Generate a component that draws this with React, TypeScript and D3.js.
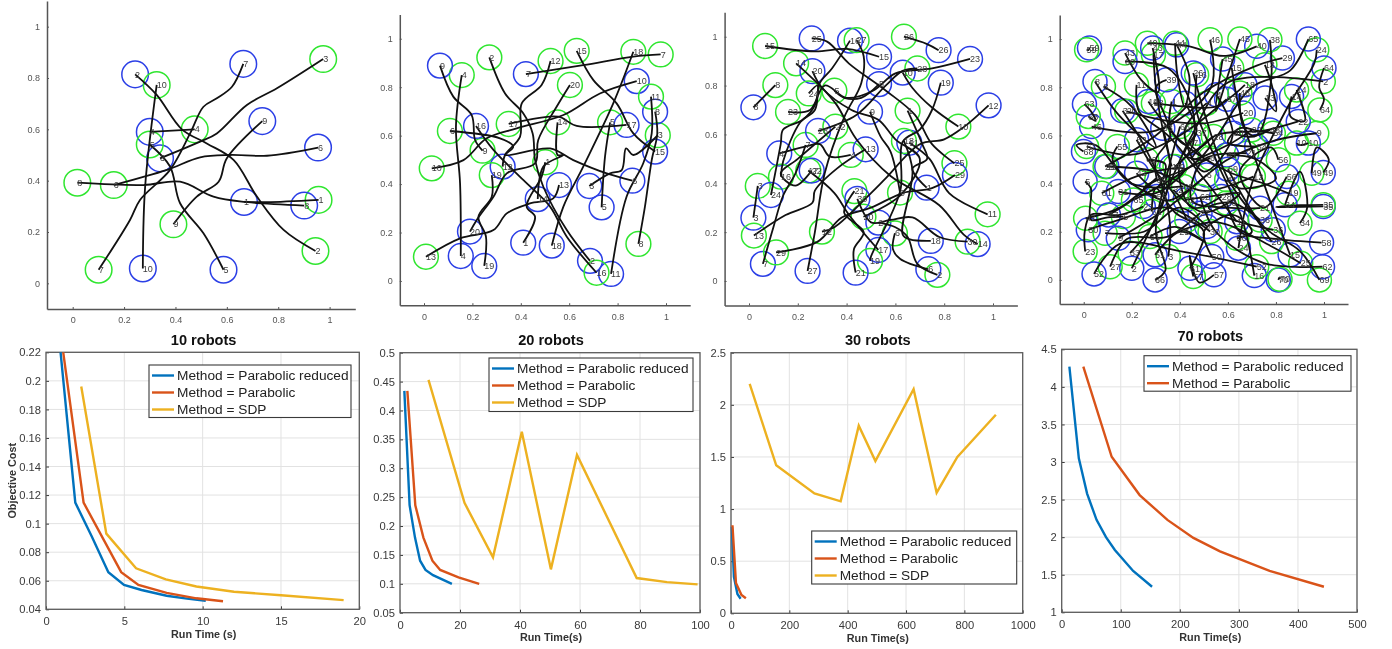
import React, { useEffect, useRef } from 'react';
import * as d3 from 'd3';

const width = 1392;
const height = 649;
const font = '"Liberation Sans", Arial, sans-serif';

// robot trajectories, each one from the blue circle to the green circle, in map units
const robots10 = [
  [[.667,.317],[.756,.316],[.957,.325]],
  [[.243,.814],[.327,.734],[.425,.6],[.522,.545],[.626,.481],[.717,.338],[.821,.208],[.945,.126]],
  [[.34,.487],[.496,.552],[.561,.584],[.678,.695],[.795,.76],[.975,.874]],
  [[.3,.59],[.475,.6]],
  [[.587,.053],[.509,.195],[.418,.312],[.379,.455],[.3,.541]],
  [[.955,.529],[.756,.497],[.613,.5],[.496,.491],[.367,.442],[.16,.383]],
  [[.664,.855],[.62,.766],[.561,.721],[.509,.688],[.457,.584],[.379,.442],[.262,.325],[.223,.247],[.101,.053]],
  [[.901,.303],[.671,.317],[.548,.338],[.418,.396],[.275,.383],[.018,.392]],
  [[.738,.632],[.6,.487],[.568,.396],[.483,.338],[.392,.23]],
  [[.273,.058],[.282,.377],[.327,.773]],
];

const robots20 = [
  [[.41,.158],[.459,.265],[.424,.307],[.486,.431],[.501,.49]],
  [[.686,.083],[.59,.21],[.493,.389],[.459,.499],[.449,.609],[.41,.692],[.335,.774],[.27,.923]],
  [[.683,.392],[.769,.444],[.817,.458],[.835,.547],[.865,.52],[.966,.602]],
  [[.152,.103],[.149,.403],[.132,.637],[.156,.85]],
  [[.734,.304],[.748,.513],[.769,.655]],
  [[.861,.414],[.755,.444],[.617,.499],[.521,.547],[.335,.52],[.369,.554],[.314,.589],[.107,.619]],
  [[.421,.854],[.658,.891],[.865,.926],[.978,.935]],
  [[.955,.699],[.964,.609],[.941,.499],[.913,.307],[.886,.153]],
  [[.066,.889],[.121,.761],[.197,.685],[.211,.582],[.242,.538]],
  [[.879,.825],[.727,.774],[.576,.685],[.383,.63],[.259,.589],[.163,.499],[.032,.465]],
  [[.773,.029],[.837,.348],[.906,.486],[.941,.609],[.938,.761]],
  [[.325,.472],[.335,.52],[.397,.596],[.404,.733],[.486,.809],[.523,.908]],
  [[.558,.396],[.534,.341],[.438,.32],[.342,.279],[.287,.21],[.149,.176],[.008,.1]],
  [[.47,.338],[.493,.472],[.576,.52],[.552,.52],[.552,.655]],
  [[.955,.534],[.865,.609],[.796,.733],[.7,.829],[.631,.95]],
  [[.215,.64],[.287,.541],[.41,.417],[.521,.307],[.59,.183],[.713,.034]],
  [[.837,.644],[.631,.64],[.555,.678],[.424,.664],[.35,.648]],
  [[.528,.146],[.576,.307],[.658,.472],[.782,.733],[.865,.946]],
  [[.249,.062],[.256,.183],[.225,.265],[.28,.348],[.28,.437]],
  [[.19,.204],[.218,.252],[.287,.348],[.342,.444],[.459,.486],[.472,.582],[.548,.719],[.603,.809]],
];

const robots30 = [
  [[.728,.382],[.67,.46],[.73,.5],[.71,.56],[.65,.697]],
  [[.53,.239],[.6,.22],[.65,.18],[.69,.07],[.772,.025]],
  [[.018,.259],[.036,.389]],
  [[.124,.522],[.23,.55],[.29,.56],[.33,.51],[.417,.516]],
  [[.533,.806],[.46,.75],[.39,.75],[.35,.779]],
  [[.735,.048],[.62,.09],[.59,.13],[.598,.195]],
  [[.057,.07],[.1,.22],[.14,.35],[.19,.44],[.232,.557]],
  [[.018,.711],[.108,.802]],
  [[.496,.693],[.54,.59],[.58,.53],[.619,.362]],
  [[.63,.853],[.67,.79],[.75,.71],[.858,.632]],
  [[.657,.566],[.74,.5],[.82,.36],[.978,.273]],
  [[.982,.719],[.88,.63],[.8,.58],[.7,.56],[.56,.42],[.5,.36],[.35,.22],[.299,.202]],
  [[.478,.539],[.36,.46],[.27,.37],[.26,.32],[.15,.27],[.02,.186]],
  [[.937,.151],[.88,.19],[.78,.31],[.58,.43],[.44,.58],[.36,.72],[.3,.79],[.193,.891]],
  [[.533,.918],[.4,.95],[.27,.94],[.066,.962]],
  [[.414,.984],[.34,.87],[.29,.81],[.27,.7],[.21,.65],[.14,.49],[.131,.427]],
  [[.53,.127],[.41,.27],[.35,.36],[.243,.452]],
  [[.745,.164],[.66,.17],[.63,.19],[.67,.45],[.635,.573]],
  [[.786,.812],[.75,.7],[.7,.62],[.63,.57],[.62,.37],[.5,.1],[.496,.082]],
  [[.26,.859],[.3,.79],[.42,.7],[.53,.66],[.6,.58],[.7,.5],[.62,.35],[.469,.263]],
  [[.437,.034],[.43,.13],[.47,.2],[.39,.28],[.432,.368]],
  [[.257,.452],[.19,.39],[.13,.44],[.2,.5],[.354,.632]],
  [[.906,.909],[.75,.87],[.6,.85],[.51,.78],[.4,.75],[.31,.8],[.25,.7],[.16,.692]],
  [[.09,.352],[.13,.56],[.14,.62],[.22,.66],[.27,.72],[.28,.8],[.245,.768]],
  [[.257,.993],[.32,.98],[.41,.89],[.56,.78],[.68,.68],[.75,.56],[.842,.482]],
  [[.777,.945],[.73,.97],[.635,1]],
  [[.24,.041],[.27,.2],[.31,.44],[.39,.67],[.46,.81],[.47,.92],[.441,.986]],
  [[.283,.614],[.44,.68],[.56,.8],[.63,.86],[.69,.87]],
  [[.844,.434],[.75,.38],[.63,.36],[.5,.3],[.38,.26],[.28,.16],[.111,.117]],
  [[.444,.336],[.5,.24],[.58,.25],[.67,.26],[.78,.18],[.896,.161]],
];

const robots70 = [
  [[.422,.734],[.47,.62],[.43,.56],[.36,.63],[.366,.741]],
  [[.2,.048],[.3,.26],[.45,.6],[.6,.82],[.997,.824]],
  [[.162,.702],[.25,.56],[.33,.38],[.36,.22],[.352,.097]],
  [[.553,.769],[.62,.6],[.5,.45],[.42,.62],[.512,.734]],
  [[.006,.409],[.03,.38],[.03,.25],[.1,.26],[.165,.263]],
  [[.512,.436],[.35,.33],[.25,.38],[.4,.45],[.526,.506]],
  [[.512,.222],[.4,.3],[.25,.2],[.089,.194]],
  [[.047,.824],[.15,.68],[.3,.55],[.2,.72],[.082,.803]],
  [[.144,.173],[.35,.3],[.6,.5],[.8,.58],[.97,.609]],
  [[.935,.568],[.9,.56],[.886,.568]],
  [[.637,.242],[.5,.42],[.35,.6],[.23,.7],[.22,.81]],
  [[.096,.471],[.3,.45],[.5,.37],[.706,.429]],
  [[.755,.755],[.8,.7],[.78,.82],[.754,.893]],
  [[.865,.762],[.86,.68],[.92,.66],[.886,.789]],
  [[.859,.104],[.75,.4],[.65,.7],[.616,.88]],
  [[.71,.018],[.66,.25],[.55,.5],[.47,.7],[.47,.852]],
  [[.366,.471],[.33,.62],[.3,.8],[.29,.935]],
  [[.671,.81],[.55,.72],[.42,.72],[.29,.734]],
  [[.269,.741],[.4,.58],[.6,.45],[.75,.4],[.852,.36]],
  [[.664,.693],[.5,.65],[.35,.66],[.179,.7]],
  [[.734,.298],[.6,.3],[.45,.33],[.5,.5],[.678,.526]],
  [[.893,.658],[.75,.62],[.55,.6],[.45,.5],[.6,.56],[.699,.623]],
  [[.248,.305],[.15,.27],[.03,.27],[.004,.2],[.006,.118]],
  [[.644,.132],[.7,.4],[.85,.72],[.96,.9],[.97,.956]],
  [[.398,.201],[.55,.24],[.78,.14],[.903,.069]],
  [[.456,.859],[.5,.7],[.6,.42],[.72,.25],[.782,.159]],
  [[.484,.277],[.35,.18],[.18,.17],[.11,.055]],
  [[.574,.346],[.45,.3],[.4,.48],[.5,.56],[.54,.596]],
  [[.827,.921],[.72,.89],[.5,.78],[.3,.6],[.089,.471]],
  [[.019,.208],[.15,.25],[.35,.3],[.526,.201]],
  [[.144,.367],[.3,.36],[.42,.46],[.25,.44],[.075,.36]],
  [[.422,.332],[.55,.35],[.65,.36],[.5,.28],[.373,.374]],
  [[.329,.63],[.36,.45],[.3,.25],[.193,.111]],
  [[.838,.312],[.9,.45],[.93,.3],[.9,.235]],
  [[.997,.305],[.8,.302],[.9,.31],[.997,.312]],
  [[.789,.208],[.62,.25],[.52,.3],[.62,.32],[.734,.249]],
  [[.435,.568],[.5,.5],[.42,.52],[.47,.609]],
  [[.623,.609],[.72,.6],[.78,.83],[.775,.997]],
  [[.345,.831],[.3,.8],[.36,.6],[.3,.5],[.304,.416]],
  [[.72,.97],[.58,.93],[.44,.97],[.265,.983]],
  [[.595,.519],[.72,.5],[.8,.42],[.65,.38],[.595,.416]],
  [[.22,.443],[.3,.38],[.34,.48],[.262,.499]],
  [[.287,.963],[.31,.78],[.24,.83],[.172,.942]],
  [[.387,.976],[.44,.84],[.42,.72],[.39,.85],[.38,.983]],
  [[.578,.917],[.55,.7],[.6,.85],[.65,1]],
  [[.033,.637],[.3,.62],[.53,.8],[.526,.997]],
  [[.103,.27],[.2,.33],[.3,.42],[.15,.3],[.008,.256]],
  [[.775,.623],[.7,.6],[.66,.65],[.65,.776]],
  [[.997,.446],[1.02,.5],[.97,.55],[.949,.443]],
  [[.533,.097],[.5,.2],[.62,.27],[.7,.2],[.637,.173]],
  [[.297,.104],[.4,.2],[.5,.16],[.38,.22],[.276,.18]],
  [[.043,.025],[.15,.15],[.4,.12],[.72,.055]],
  [[.22,.582],[.3,.45],[.38,.35],[.429,.249]],
  [[.72,.554],[.6,.57],[.65,.63],[.72,.62],[.789,.609]],
  [[.304,.346],[.2,.4],[.12,.5],[.14,.554]],
  [[.845,.429],[.75,.3],[.65,.45],[.78,.55],[.81,.499]],
  [[.542,.021],[.48,-.01],[.44,.1],[.456,.014]],
  [[.99,.155],[.8,.17],[.65,.2],[.595,.319]],
  [[.024,.963],[.02,.955],[.012,.956]],
  [[.172,.907],[.35,.88],[.45,.72],[.45,.55],[.38,.471]],
  [[.442,.048],[.5,.2],[.38,.28],[.3,.38],[.283,.284]],
  [[.994,.055],[.75,.07],[.55,.2],[.484,.346]],
  [[.003,.73],[.03,.7],[.05,.66],[.019,.679]],
  [[1,.88],[.98,.8],[1,.75],[.983,.706]],
  [[.935,1],[.86,.87],[.7,.8],[.48,.5],[.207,.332]],
  [[.297,0],[.34,.04],[.3,.2],[.35,.45],[.401,.637]],
  [[.595,.75],[.4,.6],[.2,.52],[.012,.554]],
  [[-.001,.533],[-.03,.56],[.05,.56],[.2,.4],[.415,.388]],
  [[.6,.46],[.75,.22],[.9,.12],[.981,0]],
  [[.81,0],[.815,.01],[.817,.003]],
];

const mapTicks = [0, 0.2, 0.4, 0.6, 0.8, 1];

// run time (s) and objective cost per method
const methods = ['Parabolic reduced', 'Parabolic', 'SDP'];
const methodColors = ['#0072BD', '#D95319', '#EDB120'];

const time10 = [
  [0.93, 1.87, 2.9, 3.98, 4.98, 6.1, 7.7, 9, 10.2],
  [1.1, 2.4, 4.8, 5.9, 7.7, 9.6, 11.3],
  [2.25, 3.85, 5.75, 7.65, 9.6, 12, 15, 19],
];
const cost10 = [
  [0.22, 0.1147, 0.0915, 0.066, 0.057, 0.0535, 0.0495, 0.0475, 0.046],
  [0.22, 0.1147, 0.066, 0.057, 0.0515, 0.0477, 0.0456],
  [0.196, 0.093, 0.0687, 0.061, 0.056, 0.0523, 0.0498, 0.0464],
];
const time20 = [
  [1.45, 3.2, 5, 6.7, 8.5, 11, 17.3],
  [2.45, 5.1, 7.8, 10.8, 13.4, 19.5, 26.4],
  [9.5, 21.5, 31, 40.6, 50.3, 59, 78.9, 89, 99.2],
];
const cost20 = [
  [0.434, 0.236, 0.18, 0.14, 0.124, 0.115, 0.1],
  [0.434, 0.236, 0.18, 0.14, 0.124, 0.111, 0.1],
  [0.453, 0.24, 0.146, 0.363, 0.125, 0.323, 0.11, 0.103, 0.099],
];
const time30 = [
  [3, 10, 22, 33],
  [5, 17, 36, 51],
  [64, 155, 286, 376, 438, 495, 626, 705, 776, 908],
];
const cost30 = [
  [0.83, 0.35, 0.185, 0.14],
  [0.845, 0.29, 0.176, 0.144],
  [2.2, 1.42, 1.15, 1.074, 1.8, 1.46, 2.15, 1.157, 1.5, 1.905],
];
const time70 = [
  [13, 29, 43, 59, 75, 90, 121, 153],
  [36.6, 84.6, 132, 179, 223, 268, 352, 444],
];
const cost70 = [
  [4.27, 3.05, 2.58, 2.23, 2.0, 1.83, 1.55, 1.34],
  [4.27, 3.07, 2.56, 2.23, 1.99, 1.81, 1.55, 1.34],
];

const xTicks10 = [0, 5, 10, 15, 20];
const yTicks10 = [0.04, 0.06, 0.08, 0.1, 0.12, 0.14, 0.16, 0.18, 0.2, 0.22];
const xTicks20 = [0, 20, 40, 60, 80, 100];
const yTicks20 = [0.05, 0.1, 0.15, 0.2, 0.25, 0.3, 0.35, 0.4, 0.45, 0.5];
const xTicks30 = [0, 200, 400, 600, 800, 1000];
const yTicks30 = [0, 0.5, 1, 1.5, 2, 2.5];
const xTicks70 = [0, 100, 200, 300, 400, 500];
const yTicks70 = [1, 1.5, 2, 2.5, 3, 3.5, 4, 4.5];

function Axis({ scale, values, side, at, size, color, fontSize, domainWidth, pad }: any) {
  const ref = useRef<SVGGElement>(null);
  useEffect(() => {
    const make = side === 'left' ? d3.axisLeft : d3.axisBottom;
    const axis = make(scale).tickValues(values).tickFormat((d: any) => String(d)).tickSizeOuter(0).tickSizeInner(-size).tickPadding(pad);
    const g = d3.select(ref.current!).call(axis as any);
    g.selectAll('.domain').attr('stroke', color).attr('stroke-width', domainWidth);
    g.selectAll('.tick line').attr('stroke', color).attr('stroke-width', 1);
    g.selectAll('text').attr('fill', color).attr('font-size', fontSize).attr('font-family', font);
  }, []);
  return <g ref={ref} transform={side === 'left' ? `translate(${at},0)` : `translate(0,${at})`} />;
}

function MapPanel({ paths, x0, x1, y0, y1, r }: any) {
  // x0,x1,y0,y1 are the pixel spots of the axis limits -0.1 and 1.1
  const x = d3.scaleLinear().domain([-0.1, 1.1]).range([x0, x1]);
  const y = d3.scaleLinear().domain([-0.1, 1.1]).range([y0, y1]);
  const line = d3.line<number[]>().x(d => x(d[0])).y(d => y(d[1])).curve(d3.curveCatmullRom.alpha(0.5));
  return (
    <g>
      <Axis scale={x} values={mapTicks} side="bottom" at={y0} size={2} color="#555" fontSize={9} domainWidth={1.5} pad={8} />
      <Axis scale={y} values={mapTicks} side="left" at={x0} size={2} color="#555" fontSize={9} domainWidth={1.5} pad={7} />
      {paths.map((p: number[][], i: number) => {
        const a = p[0];
        const b = p[p.length - 1];
        return (
          <g key={i}>
            <circle cx={x(a[0])} cy={y(a[1])} r={r} fill="none" stroke="#2b3fe6" strokeWidth={1.5} />
            <circle cx={x(b[0])} cy={y(b[1])} r={r} fill="none" stroke="#2fe62f" strokeWidth={1.5} />
          </g>
        );
      })}
      {paths.map((p: number[][], i: number) => (
        <path key={i} d={line(p as any)!} fill="none" stroke="#111" strokeWidth={1.8} />
      ))}
      {paths.map((p: number[][], i: number) =>
        [p[0], p[p.length - 1]].map((q, j) => (
          <text key={`${i}-${j}`} x={x(q[0])} y={y(q[1])} dy="0.35em" fontSize={9} fontFamily={font} fill="#3c3c3c">{i + 1}</text>
        ))
      )}
    </g>
  );
}

function CostPanel({ title, xLabel, yLabel, times, costs, xDomain, yDomain, xTicks, yTicks, box, legend, titleY }: any) {
  const x = d3.scaleLinear().domain(xDomain).range([box.left, box.right]);
  const y = d3.scaleLinear().domain(yDomain).range([box.bottom, box.top]);
  const line = d3.line<number[]>().x(d => x(d[0])).y(d => y(d[1]));
  const cx = (box.left + box.right) / 2;
  return (
    <g>
      <rect x={box.left} y={box.top} width={box.right - box.left} height={box.bottom - box.top} fill="#fff" />
      {xTicks.map((t: number) => <line key={t} x1={x(t)} x2={x(t)} y1={box.top} y2={box.bottom} stroke="#e2e2e2" />)}
      {yTicks.map((t: number) => <line key={t} x1={box.left} x2={box.right} y1={y(t)} y2={y(t)} stroke="#e2e2e2" />)}
      <Axis scale={x} values={xTicks} side="bottom" at={box.bottom} size={3} color="#3a3a3a" fontSize={11.2} domainWidth={0} pad={8} />
      <Axis scale={y} values={yTicks} side="left" at={box.left} size={3} color="#3a3a3a" fontSize={11.2} domainWidth={0} pad={5} />
      <rect x={box.left} y={box.top} width={box.right - box.left} height={box.bottom - box.top} fill="none" stroke="#5c5c5c" strokeWidth={1.3} />
      {times.map((t: number[], i: number) => (
        <path key={i} d={line(t.map((v, k) => [v, costs[i][k]]) as any)!} fill="none" stroke={methodColors[i]} strokeWidth={2.4} />
      ))}
      <rect x={legend.x} y={legend.y} width={legend.w} height={legend.h} fill="#fff" stroke="#3a3a3a" strokeWidth={1.1} />
      {times.map((_: number[], i: number) => {
        const ly = legend.y + 10.5 + i * 17;
        return (
          <g key={i}>
            <line x1={legend.x + 3} x2={legend.x + 25} y1={ly} y2={ly} stroke={methodColors[i]} strokeWidth={2.4} />
            <text x={legend.x + 28} y={ly} dy="0.35em" fontSize={13.7} fontFamily={font} fill="#222">{`Method = ${methods[i]}`}</text>
          </g>
        );
      })}
      <text x={cx + 1} y={titleY} dy="0.35em" textAnchor="middle" fontSize={14.6} fontWeight="bold" fontFamily={font} fill="#111">{title}</text>
      <text x={cx + 1} y={box.bottom + 25} dy="0.35em" textAnchor="middle" fontSize={10.8} fontWeight="bold" fontFamily={font} fill="#333">{xLabel}</text>
      {yLabel && (
        <text transform={`translate(12,${(box.top + box.bottom) / 2}) rotate(-90)`} dy="0.35em" textAnchor="middle" fontSize={10.8} fontWeight="bold" fontFamily={font} fill="#333">{yLabel}</text>
      )}
    </g>
  );
}

export default function App() {
  return (
    <svg width={width} height={height} style={{ position: 'absolute', left: 0, top: 0, display: 'block', filter: 'blur(0.4px)' }}>
      <rect width={width} height={height} fill="#fff" />
      <MapPanel paths={robots10} x0={47} x1={355.3} y0={309} y1={1} r={13.3} />
      <MapPanel paths={robots20} x0={399.8} x1={690.2} y0={305.2} y1={14.5} r={12.4} />
      <MapPanel paths={robots30} x0={724.6} x1={1017.4} y0={305.4} y1={12.3} r={12.4} />
      <MapPanel paths={robots70} x0={1059.7} x1={1348} y0={304} y1={15} r={12} />
      <CostPanel title="10 robots" xLabel="Run Time (s)" yLabel="Objective Cost" times={time10} costs={cost10}
        xDomain={[0, 20]} yDomain={[0.04, 0.22]} xTicks={xTicks10} yTicks={yTicks10} titleY={340}
        box={{ left: 46, right: 359.3, top: 352.3, bottom: 609.3 }} legend={{ x: 149, y: 365, w: 202, h: 52.5 }} />
      <CostPanel title="20 robots" xLabel="Run Time(s)" times={time20} costs={cost20}
        xDomain={[0, 100]} yDomain={[0.05, 0.5]} xTicks={xTicks20} yTicks={yTicks20} titleY={340}
        box={{ left: 400, right: 700, top: 352.7, bottom: 612.7 }} legend={{ x: 489, y: 358, w: 204, h: 53.5 }} />
      <CostPanel title="30 robots" xLabel="Run Time(s)" times={time30} costs={cost30}
        xDomain={[0, 1000]} yDomain={[0, 2.5]} xTicks={xTicks30} yTicks={yTicks30} titleY={340}
        box={{ left: 731, right: 1022.7, top: 352.7, bottom: 613.3 }} legend={{ x: 811.7, y: 531, w: 205, h: 53 }} />
      <CostPanel title="70 robots" xLabel="Run Time(s)" times={time70} costs={cost70}
        xDomain={[0, 500]} yDomain={[1, 4.5]} xTicks={xTicks70} yTicks={yTicks70} titleY={335.7}
        box={{ left: 1061.7, right: 1357, top: 349.3, bottom: 612.3 }} legend={{ x: 1144, y: 355.7, w: 207, h: 35.5 }} />
    </svg>
  );
}
